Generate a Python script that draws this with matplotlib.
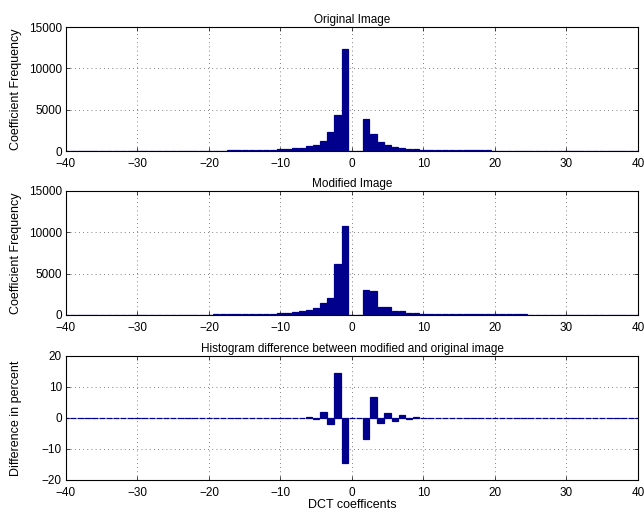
import numpy as np
import matplotlib
matplotlib.use('Agg')
import matplotlib.pyplot as plt

plt.rcParams['font.family'] = ['Liberation Sans', 'DejaVu Sans']
plt.rcParams['font.size'] = 8.5

# DCT-Koeffizienten -40..40
coef = list(range(-40, 41))

# Histogramm Originalbild (von -40 bis 40)
orig = [2, 2, 3, 3, 4, 4, 5, 5, 6, 7,
        8, 10, 12, 14, 16, 20, 25, 30, 35, 40,
        50, 55, 60, 70, 80, 90, 120, 120, 120, 160,
        240, 240, 325, 365, 570, 770, 1180, 2280, 4390, 12350,
        0, 0, 3860, 2070, 1060, 730, 530, 325, 240, 200,
        120, 120, 100, 95, 90, 85, 80, 75, 70, 70,
        65, 60, 55, 55, 50, 45, 40, 35, 30, 30,
        25, 20, 15, 12, 10, 8, 6, 5, 4, 3, 3]

# Histogramm modifiziertes Bild
modi = [2, 2, 3, 3, 4, 4, 5, 5, 6, 7,
        8, 10, 12, 14, 16, 20, 25, 30, 35, 40,
        45, 50, 60, 65, 75, 80, 80, 80, 160, 160,
        250, 280, 365, 450, 650, 810, 1460, 2030, 6180, 10740,
        0, 0, 3050, 2930, 980, 980, 490, 490, 280, 280,
        160, 160, 80, 80, 80, 75, 75, 70, 70, 65,
        65, 60, 55, 55, 50, 45, 40, 35, 30, 30,
        25, 20, 15, 12, 10, 8, 6, 5, 4, 3, 3]

# Differenz in Prozent
diff = [0.0] * 25 + [0.02, -0.02, 0.03, -0.03, 0.05,
        -0.05, 0.08, -0.05, 0.1, 0.4, -0.3, 2.0, -2.0, 14.5, -14.6,
        0.0, 0.0, -6.8, 6.8, -1.7, 1.6, -1.1, 1.0, -0.3, 0.2,
        -0.1, 0.1, -0.1, 0.08, -0.05, 0.05, -0.03, 0.03] + [0.0] * 23

barcol = '#00008c'

fig = plt.figure(figsize=(6.44, 5.12), dpi=100)
boxes = [[0.1025, 0.705, 0.888, 0.242],
         [0.1025, 0.385, 0.888, 0.242],
         [0.1025, 0.0625, 0.888, 0.2425]]
titles = ['Original Image', 'Modified Image',
          'Histogram difference between modified and original image']
data = [orig, modi, diff]

for i in range(3):
    ax = fig.add_axes(boxes[i])
    ax.bar(coef, data[i], width=0.9, color=barcol, edgecolor=barcol, linewidth=0.9, zorder=2)
    ax.set_xlim(-40, 40)
    ax.set_xticks(range(-40, 41, 10))
    if i < 2:
        ax.set_ylim(0, 15000)
        ax.set_yticks([0, 5000, 10000, 15000])
        ax.set_ylabel('Coefficient Frequency', fontsize=9)
    else:
        ax.set_ylim(-20, 20)
        ax.set_yticks([-20, -10, 0, 10, 20])
        ax.set_ylabel('Difference in percent', fontsize=9)
        ax.set_xlabel('DCT coefficents', fontsize=9, labelpad=0)
    ax.yaxis.set_label_coords(-0.077, 0.5)
    ax.set_title(titles[i], fontsize=8.5, pad=3)
    ax.grid(True, color='0.35', linestyle=(0, (1, 4)), linewidth=0.6, zorder=0)
    ax.tick_params(direction='in', top=True, right=True, length=3, width=0.5)
    ax.tick_params(axis='x', pad=5)
    ax.tick_params(axis='y', pad=3)
    for s in ax.spines.values():
        s.set_linewidth(0.8)

fig.savefig('out.png', dpi=100)
